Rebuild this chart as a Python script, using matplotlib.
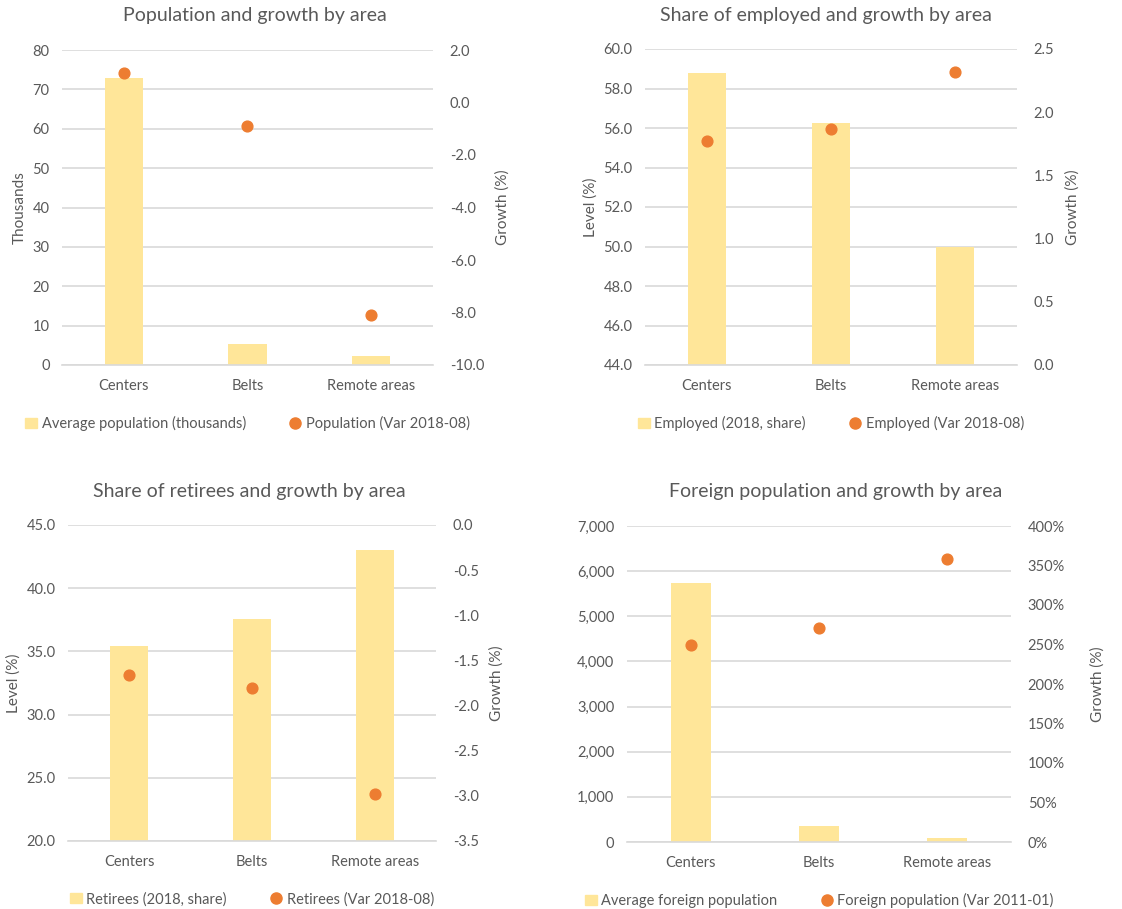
import matplotlib
matplotlib.use("Agg")
import matplotlib.pyplot as plt
from matplotlib.ticker import FuncFormatter, MultipleLocator
from matplotlib.lines import Line2D
from matplotlib.patches import Patch

plt.rcParams['font.family'] = ['Lato', 'DejaVu Sans']

areas = ['Centers', 'Belts', 'Remote areas']

# population (thousands) and growth 2018-08 (%)
pop_avg = [73.0, 5.4, 2.4]
pop_growth = [1.12, -0.9, -8.1]

# employed share 2018 and growth 2018-08
emp_share = [58.8, 56.25, 50.0]
emp_growth = [1.77, 1.87, 2.32]

# retirees share 2018 and growth 2018-08
ret_share = [35.45, 37.6, 43.0]
ret_growth = [-1.66, -1.81, -2.98]

# foreign population and growth 2011-01 (%)
for_avg = [5740, 355, 90]
for_growth = [249, 271, 358]

BAR = '#FFE699'
DOT = '#ED7D31'
GRID = '#D9D9D9'
TXT = '#595959'

W, H = 1122, 909
fig = plt.figure(figsize=(W / 100, H / 100), dpi=100)


def panel(box, title, title_xy, bars, dots, left_lim, left_step, right_lim, right_step,
          left_fmt, right_fmt, left_label, labels, rpad=8):
    x0, y0, x1, y1 = box
    ax = fig.add_axes([x0 / W, 1 - y1 / H, (x1 - x0) / W, (y1 - y0) / H])
    xs = range(len(areas))
    ax.bar(xs, [b - left_lim[0] for b in bars], bottom=left_lim[0], width=0.31,
           color=BAR, zorder=2)
    ax.set_xlim(-0.5, 2.5)
    ax.set_ylim(*left_lim)
    ax.yaxis.set_major_locator(MultipleLocator(left_step))
    ax.yaxis.set_major_formatter(FuncFormatter(left_fmt))
    ax.grid(axis='y', color=GRID, lw=1.2, zorder=0)
    ax.set_xticks(list(xs))
    ax.set_xticklabels(areas)
    for s in ['top', 'left', 'right']:
        ax.spines[s].set_visible(False)
    ax.spines['bottom'].set_color(GRID)
    ax.spines['bottom'].set_linewidth(1.2)
    ax.tick_params(length=0, colors=TXT, labelsize=10.5)
    ax.tick_params(axis='x', pad=10)
    ax.tick_params(axis='y', pad=9)
    if left_label:
        ax.set_ylabel(left_label, color=TXT, fontsize=11)

    ax2 = ax.twinx()
    ax2.scatter(xs, dots, s=60, color=DOT, zorder=3)
    ax2.set_ylim(*right_lim)
    ax2.yaxis.set_major_locator(MultipleLocator(right_step))
    ax2.yaxis.set_major_formatter(FuncFormatter(right_fmt))
    for s in ax2.spines.values():
        s.set_visible(False)
    ax2.tick_params(length=0, colors=TXT, labelsize=10.5, pad=12)
    ax2.set_ylabel('Growth (%)', color=TXT, fontsize=11, labelpad=rpad)

    tx, ty = title_xy
    fig.text(tx / W, 1 - ty / H, title, color=TXT, fontsize=14, ha='center', va='center')

    handles = [Patch(color=BAR), Line2D([], [], ls='', marker='o', ms=8, color=DOT)]
    leg = ax.legend(handles, labels, loc='upper center', bbox_to_anchor=(0.5, -0.12),
                    ncol=2, frameon=False, fontsize=10.5, handlelength=0.8,
                    handletextpad=0.3, columnspacing=3.0)
    for t in leg.get_texts():
        t.set_color(TXT)


f1 = lambda v, p: f'{v:.0f}'
f_1 = lambda v, p: f'{v:.1f}'

panel((62, 50, 433, 365), 'Population and growth by area', (255, 16), pop_avg, pop_growth,
      (0, 80), 10, (-10, 2), 2, f1, f_1, 'Thousands',
      ['Average population (thousands)', 'Population (Var 2018-08)'])

panel((645, 49, 1017, 365), 'Share of employed and growth by area', (826, 16), emp_share, emp_growth,
      (44, 60), 2, (0, 2.5), 0.5, f_1, f_1, 'Level (%)',
      ['Employed (2018, share)', 'Employed (Var 2018-08)'])

panel((68, 525, 436, 841), 'Share of retirees and growth by area', (249, 492), ret_share, ret_growth,
      (20, 45), 5, (-3.5, 0), 0.5, f_1, f_1, 'Level (%)',
      ['Retirees (2018, share)', 'Retirees (Var 2018-08)'])

panel((627, 526, 1011, 842), 'Foreign population and growth by area', (836, 492), for_avg, for_growth,
      (0, 7000), 1000, (0, 400), 50, lambda v, p: f'{v:,.0f}', lambda v, p: f'{v:.0f}%', None,
      ['Average foreign population', 'Foreign population (Var 2011-01)'], rpad=18)

fig.savefig('out.png', dpi=100, facecolor='white')
